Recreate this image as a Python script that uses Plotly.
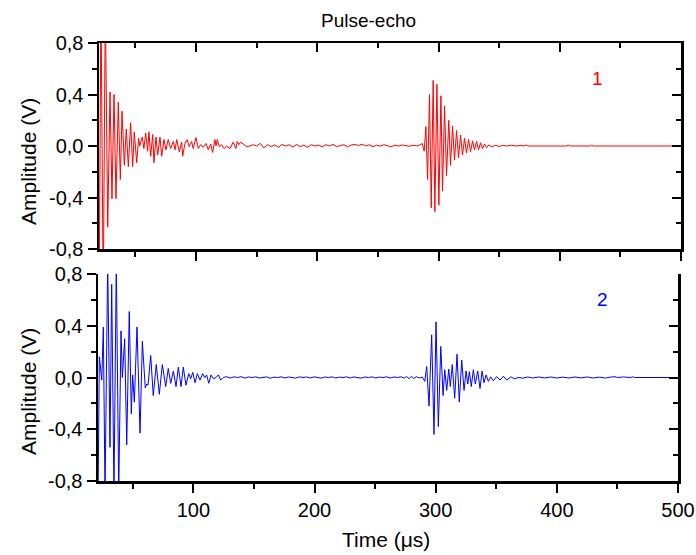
import plotly.graph_objects as go

# ---------------- data ----------------
# Panel 1 (red): time in microseconds, amplitude in volts
t_echo1 = [20.3, 21.6, 23.5, 25.2, 27.2, 29.1, 30.7, 32.4, 34.0, 35.9, 37.6, 39.0, 40.9, 42.5,
           44.2, 46.1, 47.8, 49.1, 51.1, 52.7, 53.6, 54.6, 55.7, 57.0, 58.5, 60.1, 61.2, 62.6,
           64.3, 65.3, 67.0, 68.4, 70.3, 71.7, 73.6, 75.2, 77.1, 79.1, 81.3, 82.7, 84.1, 86.2,
           88.2, 89.0, 90.9, 92.8, 94.4, 96.4, 97.7, 100.0, 101.9, 103.8, 106.0, 108.2, 110.1,
           112.1, 113.7, 115.6, 116.5, 117.5, 119.2, 121.2, 123.1, 125.3, 128.0, 130.7, 132.9,
           134.0, 135.4, 136.8, 139.0, 141.8, 144.5, 147.2, 150.0, 153.0, 156.0, 159.0, 162.0,
           165.0, 168.0, 171.0, 174.0, 177.0, 180.0, 183.0, 186.0, 189.0, 192.0, 195.0, 198.0,
           201.0, 204.0, 207.0, 210.0, 213.0, 216.0, 219.0, 222.0, 225.0, 228.0, 231.0, 234.0,
           237.0, 240.0, 243.0, 246.0, 249.0, 252.0, 255.0, 258.0, 261.0, 264.0, 267.0, 270.0,
           273.0, 276.0, 279.0, 282.0, 284.5,
           286.5, 288.2, 289.6, 291.0, 292.6, 294.0, 295.6, 297.0, 298.7, 300.3, 302.0, 303.3,
           305.0, 306.6, 308.5, 309.9, 311.6, 313.2, 314.9, 316.5, 318.2, 319.8, 321.5, 323.1,
           324.8, 326.4, 328.1, 329.7, 331.4, 333.0, 334.7, 336.3, 338.0, 339.6, 341.5, 344.0,
           347.0, 350.0, 353.0, 356.0, 360.0, 364.0, 368.0, 370.5, 372.0, 374.0, 390.0, 405.5,
           407.0, 408.5, 425.0, 426.3, 427.6, 445.5, 447.0, 448.5, 494.0]
v_echo1 = [-1.0, 1.2, -1.2, 1.1, -0.63, 0.42, -0.41, 0.40, -0.41, 0.34, -0.26, 0.27, -0.15, 0.13,
           -0.16, 0.18, -0.16, 0.11, -0.13, 0.06, 0.0, 0.03, 0.07, -0.02, 0.10, -0.04, 0.11, -0.08,
           0.09, -0.13, 0.07, -0.07, 0.07, -0.08, 0.05, -0.03, 0.05, -0.02, 0.035, -0.03, 0.05, -0.045,
           0.03, -0.08, 0.02, 0.05, -0.005, 0.035, -0.02, 0.065, -0.02, 0.01, -0.01, 0.02, -0.03,
           0.015, -0.05, 0.05, 0.0, 0.05, -0.005, 0.01, -0.02, 0.0, -0.02, 0.03, -0.02,
           0.035, 0.01, 0.03, 0.015, -0.005, 0.0, 0.01, 0.0, 0.02, -0.015, 0.01, -0.005,
           0.008, -0.01, 0.012, 0.0, 0.01, -0.008, 0.012, -0.005, 0.006, -0.01, 0.01, 0.0,
           0.007, -0.006, 0.01, 0.0, 0.012, -0.005, 0.004, 0.01, -0.006, 0.008, 0.012, 0.004,
           0.014, 0.0, 0.01, -0.006, 0.006, 0.0, 0.01, 0.002, -0.006, 0.006, 0.0, 0.008,
           0.004, -0.002, 0.006, 0.0, 0.008,
           0.02, -0.04, 0.15, -0.26, 0.40, -0.48, 0.51, -0.51, 0.48, -0.46, 0.39, -0.35,
           0.31, -0.23, 0.20, -0.15, 0.155, -0.11, 0.12, -0.09, 0.085, -0.07, 0.06, -0.055,
           0.05, -0.045, 0.04, -0.03, 0.035, -0.03, 0.025, -0.02, 0.015, -0.012, 0.008, -0.006,
           0.006, -0.004, 0.005, 0.0, 0.006, 0.0, 0.004, 0.0, 0.008, 0.0, 0.0, 0.0,
           0.007, 0.0, 0.0, 0.006, 0.0, 0.0, 0.005, 0.0, 0.0]

# Panel 2 (blue)
t_echo2 = [21.4, 22.4, 24.4, 25.7, 27.1, 29.3, 31.2, 32.6, 34.5, 36.4, 38.4, 40.3, 41.4, 43.3,
           45.0, 47.1, 48.8, 49.9, 51.3, 53.5, 56.0, 57.9, 60.3, 61.5, 62.6, 64.8, 66.9, 69.4,
           71.9, 74.4, 77.2, 79.3, 81.3, 83.5, 85.7, 87.6, 89.8, 91.7, 93.9, 96.2, 97.8, 99.5,
           101.4, 103.3, 105.5, 107.7, 109.4, 111.0, 112.7, 114.6, 116.5, 118.7, 120.6, 122.6,
           124.7, 127.5, 130.5, 133.5, 136.5, 139.5, 142.5, 145.5, 148.5, 151.5, 154.5, 157.5,
           160.5, 163.5, 166.5, 169.5, 172.5, 175.5, 178.5, 181.5, 184.5, 187.5, 190.5, 193.5,
           196.5, 199.5, 202.5, 205.5, 208.5, 211.5, 214.5, 217.5, 220.5, 223.5, 226.5, 229.5,
           232.5, 235.5, 238.5, 241.5, 244.5, 247.5, 250.5, 253.5, 256.5, 259.5, 262.5, 265.5,
           268.5, 271.5, 274.0, 276.0, 278.0, 280.0, 282.0, 284.0, 286.5, 289.0,
           291.0, 292.6, 294.5, 296.7, 298.6, 300.3, 302.2, 304.2, 306.1, 307.5, 309.1, 310.8,
           312.1, 313.7, 315.7, 317.6, 319.5, 321.5, 323.4, 325.1, 326.5, 327.8, 329.4, 331.1,
           332.7, 334.7, 336.6, 338.3, 339.9, 341.6, 343.5, 345.4, 347.6, 350.4, 353.1, 355.8,
           358.6, 362.0, 365.0, 368.0, 372.0, 376.0, 380.0, 385.0, 390.0, 395.0, 400.0, 405.0,
           410.0, 415.0, 420.0, 425.0, 430.0, 435.0, 440.0, 445.0, 448.0, 450.0, 455.0, 461.0,
           462.5, 464.0, 500.0]
v_echo2 = [-0.9, 0.16, -0.02, 0.39, -0.9, 0.9, -0.54, 0.72, -0.9, 0.9, -0.9, 0.36, 0.0, 0.30,
           -0.52, 0.51, -0.28, 0.02, -0.19, 0.39, -0.43, 0.28, -0.08, -0.05, -0.06, 0.17, -0.14, 0.10,
           -0.13, 0.10, -0.07, 0.07, -0.045, 0.05, -0.07, 0.08, -0.07, 0.08, -0.06, 0.03, -0.01, 0.04,
           -0.04, 0.03, -0.02, 0.03, 0.0, 0.02, -0.045, 0.02, -0.01, 0.0, 0.02, -0.02,
           0.0, 0.006, -0.004, 0.005, 0.0, 0.006, -0.005, 0.004, 0.0, 0.005, -0.004, 0.0,
           0.005, -0.006, 0.003, 0.0, 0.005, -0.004, 0.004, 0.0, -0.005, 0.005, 0.0, 0.004,
           -0.004, 0.005, 0.0, -0.005, 0.004, 0.0, 0.005, -0.004, 0.003, 0.0, 0.005, -0.004,
           0.004, 0.0, -0.005, 0.004, 0.0, 0.005, -0.004, 0.003, 0.0, 0.005, -0.004, 0.004,
           0.0, 0.005, -0.005, 0.008, -0.01, 0.01, -0.008, 0.006, -0.004, 0.003,
           -0.03, 0.085, -0.22, 0.33, -0.44, 0.43, -0.38, 0.24, -0.14, 0.06, -0.10, 0.065,
           -0.07, 0.10, -0.16, 0.18, -0.19, 0.135, -0.10, 0.05, -0.05, 0.045, -0.07, 0.06,
           -0.05, 0.05, -0.085, 0.05, -0.04, 0.02, -0.03, 0.005, -0.025, 0.007, -0.02, 0.01,
           -0.02, 0.005, -0.01, 0.0, -0.005, 0.004, -0.004, 0.004, -0.003, 0.004, -0.004, 0.003,
           -0.004, 0.004, -0.003, 0.004, -0.004, 0.003, -0.004, 0.004, 0.006, 0.0, 0.004, 0.0,
           0.006, 0.0, 0.0]

x_tick_vals = [100, 200, 300, 400, 500]
x_tick_text = ["100", "200", "300", "400", "500"]
x_minor_vals = [50, 150, 250, 350, 450]
y_tick_vals = [-0.8, -0.4, 0.0, 0.4, 0.8]
y_tick_text = ["-0,8", "-0,4", "0,0", "0,4", "0,8"]
y_minor_vals = [-0.6, -0.2, 0.2, 0.6]

# ---------------- figure ----------------
FONT = "Liberation Sans, Arial, sans-serif"
OFF = 0                      # body margin removed by post_script below
W, H = 696, 555
L, R, T, B = 98, 15, 43, 74
pw, ph = W - L - R, H - T - B

fig = go.Figure()
fig.add_trace(go.Scatter(x=t_echo1, y=v_echo1, mode="lines",
                         line=dict(color="#FF0000", width=1), xaxis="x", yaxis="y",
                         showlegend=False, hoverinfo="skip"))
fig.add_trace(go.Scatter(x=t_echo2, y=v_echo2, mode="lines",
                         line=dict(color="#0000FF", width=1), xaxis="x2", yaxis="y2",
                         showlegend=False, hoverinfo="skip"))
# empty traces to activate the mirrored (inside-tick) axes
fig.add_trace(go.Scatter(x=[None], y=[None], xaxis="x3", yaxis="y3", showlegend=False, hoverinfo="skip"))
fig.add_trace(go.Scatter(x=[None], y=[None], xaxis="x2", yaxis="y4", showlegend=False, hoverinfo="skip"))

axis_common = dict(showgrid=False, zeroline=False, linecolor="black", linewidth=2.5,
                   tickcolor="black", tickwidth=2, fixedrange=True, automargin=False)

def px_x(px):
    return (px - OFF - L) / pw

def px_y(py):
    return (OFF + H - B - py) / ph

top_dom = [px_y(249), 1.0]
bot_dom = [0.0, px_y(274)]
top_xdom = [px_x(99), px_x(681)]
bot_xdom = [px_x(98), px_x(678)]

minor_out = dict(ticks="outside", ticklen=5, tickwidth=2, tickcolor="black")
minor_in = dict(ticks="inside", ticklen=5, tickwidth=2, tickcolor="black")

fig.update_layout(
    width=W, height=H, autosize=False,
    margin=dict(l=L, r=R, t=T, b=B, pad=0),
    paper_bgcolor="white", plot_bgcolor="white",
    font=dict(family=FONT, size=20, color="black"),
    xaxis=dict(axis_common, domain=top_xdom, anchor="y", range=[20, 500],
               tickvals=x_tick_vals, showticklabels=False, ticks="outside", ticklen=9,
               minor=dict(minor_out, tickvals=x_minor_vals),
               showline=True, mirror=True),
    yaxis=dict(axis_common, domain=top_dom, anchor="x", range=[-0.8, 0.8],
               tickvals=y_tick_vals, ticktext=y_tick_text, ticks="outside", ticklen=9,
               minor=dict(minor_out, tickvals=y_minor_vals),
               showline=True, mirror=True, tickfont=dict(size=20)),
    xaxis3=dict(axis_common, overlaying="x", side="top", anchor="y", range=[20, 500],
                tickvals=x_tick_vals, showticklabels=False, ticks="inside", ticklen=9,
                minor=dict(minor_in, tickvals=x_minor_vals), showline=False),
    yaxis3=dict(axis_common, overlaying="y", side="right", anchor="x", range=[-0.8, 0.8],
                tickvals=y_tick_vals, showticklabels=False, ticks="inside", ticklen=9,
                minor=dict(minor_in, tickvals=y_minor_vals), showline=False),
    xaxis2=dict(axis_common, domain=bot_xdom, anchor="y2", range=[21.3, 500],
                tickvals=x_tick_vals, ticktext=x_tick_text, ticks="outside", ticklen=9,
                minor=dict(minor_out, tickvals=x_minor_vals), ticklabeloverflow="allow",
                showline=True, mirror=False, tickfont=dict(size=20)),
    yaxis2=dict(axis_common, domain=bot_dom, anchor="x2", range=[-0.8, 0.8],
                tickvals=y_tick_vals, ticktext=y_tick_text, ticks="outside", ticklen=9,
                minor=dict(minor_out, tickvals=y_minor_vals),
                showline=True, mirror=False, tickfont=dict(size=20)),
    yaxis4=dict(axis_common, overlaying="y2", side="right", anchor="x2", range=[-0.8, 0.8],
                tickvals=y_tick_vals, showticklabels=False, ticks="inside", ticklen=9,
                minor=dict(minor_in, tickvals=y_minor_vals), showline=True),
)

annotations = [
    dict(text="Pulse-echo", x=px_x(368), y=px_y(20), xref="paper", yref="paper",
         showarrow=False, xanchor="center", yanchor="middle", font=dict(size=19)),
    dict(text="Amplitude (V)", x=px_x(28), y=px_y(162), xref="paper", yref="paper",
         showarrow=False, xanchor="center", yanchor="middle", textangle=-90, font=dict(size=21)),
    dict(text="Amplitude (V)", x=px_x(28), y=px_y(392), xref="paper", yref="paper",
         showarrow=False, xanchor="center", yanchor="middle", textangle=-90, font=dict(size=21)),
    dict(text="Time (\u03bcs)", x=px_x(386), y=px_y(539), xref="paper", yref="paper",
         showarrow=False, xanchor="center", yanchor="middle", font=dict(size=21)),
    dict(text="1", x=431.4, y=0.524, xref="x", yref="y", showarrow=False,
         xanchor="center", yanchor="middle", font=dict(size=19, color="#FF0000")),
    dict(text="2", x=437.7, y=0.60, xref="x2", yref="y2", showarrow=False,
         xanchor="center", yanchor="middle", font=dict(size=19, color="#0000FF")),
]
fig.update_layout(annotations=annotations)

fig.write_html("out.html",
               config={"displayModeBar": False, "staticPlot": True},
               post_script="document.body.style.margin='0';document.body.style.overflow='hidden';")
